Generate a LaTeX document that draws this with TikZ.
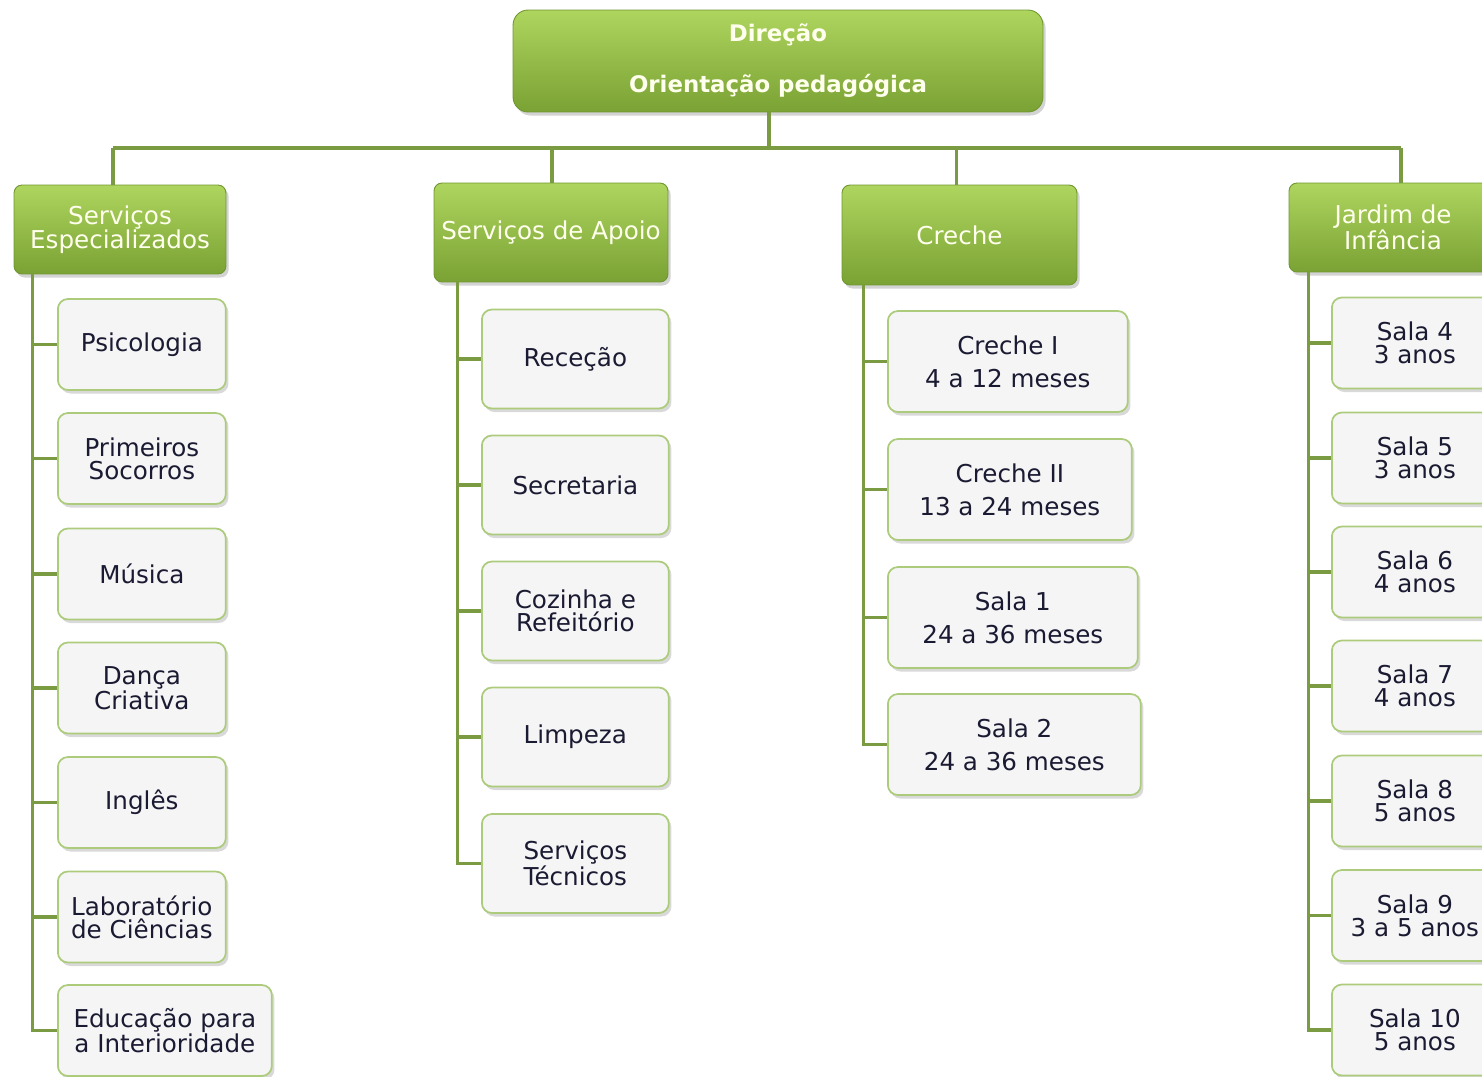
\documentclass[tikz,border=0pt]{standalone}
\usepackage{fontspec}
\setmainfont{DejaVu Sans}
\usepackage{tikz}
\usetikzlibrary{positioning,calc,shadows}
\definecolor{lineg}{RGB}{122,155,66}
\definecolor{topg}{RGB}{174,213,94}
\definecolor{botg}{RGB}{122,162,52}
\definecolor{edgeg}{RGB}{112,150,48}
\definecolor{boxedge}{RGB}{172,204,124}
\definecolor{boxfill}{RGB}{245,245,245}
\definecolor{txtdark}{RGB}{26,26,50}
\definecolor{txtlight}{RGB}{255,255,238}

\tikzset{
  greenbox/.style={draw=edgeg, line width=0.5pt, top color=topg, bottom color=botg,
    rounded corners=0.16cm, text=txtlight, align=center, inner sep=0pt,
    font=\fontsize{14}{13.7}\selectfont,
    drop shadow={shadow xshift=1.5pt, shadow yshift=-2pt, opacity=0.35}},
  leafbox/.style={draw=boxedge, line width=1pt, fill=boxfill,
    rounded corners=0.2cm, text=txtdark, align=center, inner sep=0pt, anchor=west,
    font=\fontsize{14}{13.2}\selectfont,
    drop shadow={shadow xshift=1.5pt, shadow yshift=-2pt, opacity=0.3}},
  conn/.style={draw=lineg, line width=2pt},
}

\begin{document}
\begin{tikzpicture}[x=0.02cm,y=-0.02cm]
\useasboundingbox (0,0) rectangle (1482,1076);
\clip (0,0) rectangle (1482,1076);

% top
\node[greenbox, minimum width=10.6cm, minimum height=2.04cm, rounded corners=0.3cm,
  font=\bfseries\fontsize{13}{29}\selectfont] (dir) at (778,61) {Direção\\Orientação pedagógica};

% departments
\node[greenbox, minimum width=4.24cm, minimum height=1.78cm] (esp) at (120,229.5) {Serviços\\Especializados};
\node[greenbox, minimum width=4.68cm, minimum height=1.98cm] (apoio) at (551,232.5) {Serviços de Apoio};
\node[greenbox, minimum width=4.7cm, minimum height=2.0cm] (creche) at (959.5,235) {Creche};
\node[greenbox, minimum width=4.16cm, minimum height=1.78cm] (jardim) at (1393,227.5) {Jardim de\\Infância};

\coordinate (bus) at (0,148);
\coordinate (topdrop) at ($(dir.south)+(-9,0)$);
\draw[conn] (topdrop) -- (topdrop |- bus);
\foreach \c/\d in {esp/-7,apoio/1,creche/-3,jardim/8}{
  \coordinate (\c drop) at ($(\c.north)+(\d,0)$);
  \draw[conn] (\c drop |- bus) -- (\c drop);
}
\draw[conn] (espdrop |- bus) -- (jardimdrop |- bus);

% spines
\coordinate (sp1) at ($(esp.south west)+(19,0)$);
\coordinate (sp2) at ($(apoio.south west)+(24,0)$);
\coordinate (sp3) at ($(creche.south west)+(22,0)$);
\coordinate (sp4) at ($(jardim.south west)+(20,0)$);

% Servicos Especializados
\foreach \n/\y/\w/\t in {a/344.5/3.36/Psicologia, b/458.5/3.36/Primeiros\\Socorros,
    c/574/3.36/Música, d/688/3.36/Dança\\Criativa, e/802.5/3.36/Inglês,
    f/917/3.36/Laboratório\\de Ciências, g/1030.5/4.28/Educação para\\a Interioridade}{
  \node[leafbox, minimum width=\w cm, minimum height=1.82cm] (s1\n) at (57,\y) {\t};
  \draw[conn] (sp1 |- s1\n.west) -- (s1\n.west);
}
\draw[conn] (sp1) |- (s1g.west);

% Servicos de Apoio
\foreach \n/\y/\t in {a/359/Receção, b/485/Secretaria, c/611/Cozinha e\\Refeitório,
    d/737/Limpeza, e/863.5/Serviços\\Técnicos}{
  \node[leafbox, minimum width=3.74cm, minimum height=1.98cm] (s2\n) at (481,\y) {\t};
  \draw[conn] (sp2 |- s2\n.west) -- (s2\n.west);
}
\draw[conn] (sp2) |- (s2e.west);

% Creche
\foreach \n/\y/\w/\t in {a/361.5/4.8/Creche I\\4 a 12 meses, b/489.5/4.88/Creche II\\13 a 24 meses,
    c/617.5/5.0/Sala 1\\24 a 36 meses, d/744.5/5.06/Sala 2\\24 a 36 meses}{
  \node[leafbox, minimum width=\w cm, minimum height=2.02cm,
    font=\fontsize{14}{18.8}\selectfont] (s3\n) at (887,\y) {\t};
  \draw[conn] (sp3 |- s3\n.west) -- (s3\n.west);
}
\draw[conn] (sp3) |- (s3d.west);

% Jardim de Infancia
\foreach \n/\y/\t in {a/343/Sala 4\\3 anos, b/458/Sala 5\\3 anos, c/572/Sala 6\\4 anos,
    d/686/Sala 7\\4 anos, e/801/Sala 8\\5 anos, f/915.5/Sala 9\\3 a 5 anos, g/1030/Sala 10\\5 anos}{
  \node[leafbox, minimum width=3.32cm, minimum height=1.82cm] (s4\n) at (1331,\y) {\t};
  \draw[conn] (sp4 |- s4\n.west) -- (s4\n.west);
}
\draw[conn] (sp4) |- (s4g.west);
\end{tikzpicture}
\end{document}
